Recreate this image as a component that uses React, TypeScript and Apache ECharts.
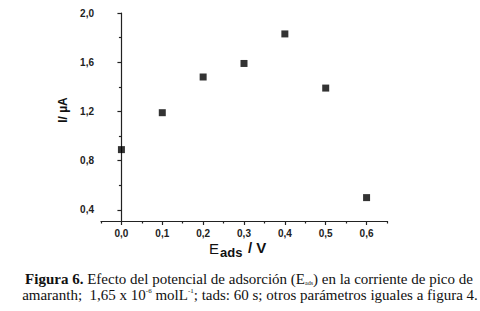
import React, { useEffect, useRef } from "react";
import * as echarts from "echarts";

const potentials = [0.0, 0.1, 0.2, 0.3, 0.4, 0.5, 0.6];
const currents = [0.89, 1.19, 1.48, 1.59, 1.83, 1.39, 0.5];
const xTickValues = [0, 0.1, 0.2, 0.3, 0.4, 0.5, 0.6];
const xMinorTickValues = [-0.05, 0.05, 0.15, 0.25, 0.35, 0.45, 0.55, 0.65];
const yTickValues = [0.4, 0.8, 1.2, 1.6, 2.0];
const yMinorTickValues = [0.6, 1.0, 1.4, 1.8];
const xTitleMain = "E";
const xTitleSub = "ads";
const xTitleUnit = "/ V";
const yTitle = "I/ µA";
const captionLine1 = "{b|Figura 6.} Efecto del potencial de adsorción (E{sub|ads}) en la corriente de pico de";
const captionLine2 = "amaranth;  1,65 x 10{sup|-6} molL{sup|-1}; tads: 60 s; otros parámetros iguales a figura 4.";

const fmt = (v: number) => v.toFixed(1).replace(".", ",");

export default function App() {
  const ref = useRef<HTMLDivElement>(null);
  useEffect(() => {
    if (!ref.current) return;
    const chart = echarts.init(ref.current, null, { renderer: "svg" });
    const sans = "Liberation Sans";
    const serif = "Liberation Serif";
    const axisFont = { fontFamily: sans, fontWeight: "bold" as const, fontSize: 10, color: "#222" };
    const lineStyle = { color: "#222", width: 1.2 };
    chart.setOption({
      animation: false,
      backgroundColor: "#fff",
      grid: { left: 101, right: 93, top: 13, bottom: 90 },
      xAxis: [
        {
          type: "value",
          min: -0.05,
          max: 0.65,
          position: "bottom",
          splitLine: { show: false },
          axisLine: { lineStyle },
          axisTick: { customValues: xTickValues, length: 4, lineStyle },
          axisLabel: { customValues: xTickValues, formatter: fmt, margin: 7, ...axisFont },
        },
        {
          type: "value",
          min: -0.05,
          max: 0.65,
          position: "bottom",
          splitLine: { show: false },
          axisLine: { show: false },
          axisTick: { customValues: xMinorTickValues, length: 2.5, lineStyle },
          axisLabel: { show: false },
        },
      ],
      yAxis: [
        {
          type: "value",
          min: 0.31,
          max: 2.0,
          position: "left",
          splitLine: { show: false },
          axisLine: { show: true, lineStyle },
          axisTick: { show: true, customValues: yTickValues, length: 4, lineStyle },
          axisLabel: { customValues: yTickValues, formatter: fmt, margin: 7, ...axisFont },
          name: yTitle,
          nameLocation: "middle",
          nameGap: 17,
          nameTextStyle: { fontFamily: sans, fontWeight: "bold", fontSize: 12, color: "#111", padding: [0, 0, 0, 14] },
        },
        {
          type: "value",
          min: 0.31,
          max: 2.0,
          position: "left",
          splitLine: { show: false },
          axisLine: { show: false },
          axisTick: { show: true, customValues: yMinorTickValues, length: 2.5, lineStyle },
          axisLabel: { show: false },
        },
      ],
      series: [
        {
          type: "scatter",
          xAxisIndex: 0,
          yAxisIndex: 0,
          symbol: "rect",
          symbolSize: 7,
          itemStyle: { color: "#000" },
          data: potentials.map((p, i) => [p, currents[i]]),
        },
      ],
      graphic: [
        {
          type: "text",
          x: 209,
          y: 241,
          style: { text: xTitleMain, fontFamily: sans, fontSize: 15, fill: "#111" },
        },
        {
          type: "text",
          x: 220,
          y: 246,
          style: { text: xTitleSub, fontFamily: sans, fontSize: 13, fontWeight: "bold", fill: "#111" },
        },
        {
          type: "text",
          x: 248,
          y: 240,
          style: { text: xTitleUnit, fontFamily: sans, fontSize: 15, fontWeight: "bold", fill: "#111" },
        },
        {
          type: "text",
          x: 249,
          y: 271,
          style: {
            text: captionLine1,
            align: "center",
            fontFamily: serif,
            fontSize: 15,
            fill: "#111",
            rich: {
              b: { fontFamily: serif, fontSize: 15, fontWeight: "bold", fill: "#111" },
              sub: { fontFamily: serif, fontSize: 6, fill: "#111", verticalAlign: "bottom", padding: [7, 0, 0, 0] },
            },
          },
        },
        {
          type: "text",
          x: 250,
          y: 287,
          style: {
            text: captionLine2,
            align: "center",
            fontFamily: serif,
            fontSize: 15,
            fill: "#111",
            rich: {
              sup: { fontFamily: serif, fontSize: 7, fill: "#111", verticalAlign: "top" },
            },
          },
        },
      ],
    });
    return () => chart.dispose();
  }, []);
  return <div ref={ref} style={{ position: "fixed", left: 0, top: 0, width: 480, height: 311 }} />;
}
